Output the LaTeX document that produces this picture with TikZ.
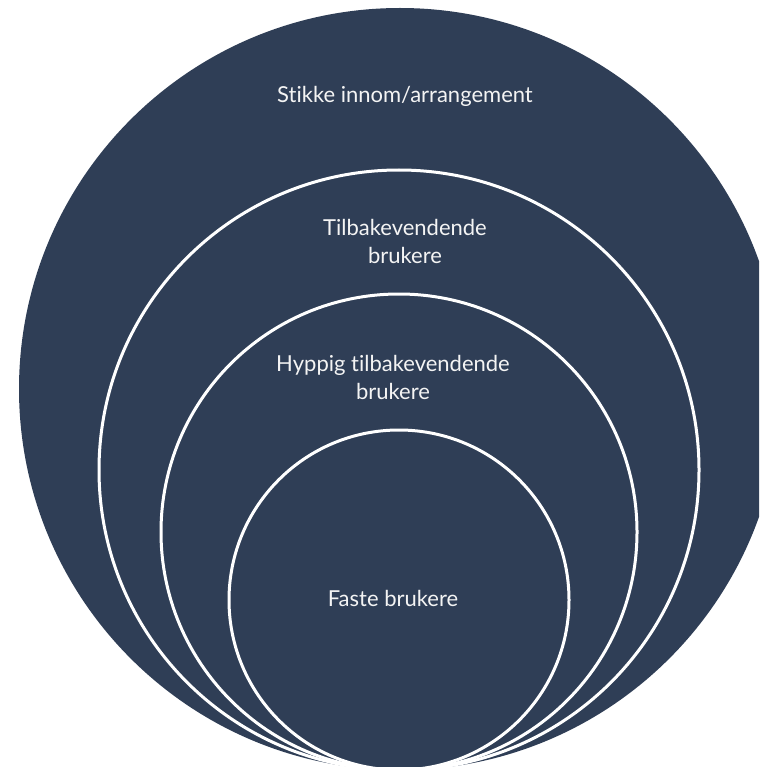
\documentclass[tikz,border=0pt]{standalone}
\usepackage{fontspec}
\setmainfont{Lato}[Ligatures=NoCommon]
\definecolor{navy}{HTML}{2F3E56}
\definecolor{txt}{HTML}{F4F4F4}
\begin{document}
\begin{tikzpicture}[x=1pt,y=-1pt,
  ring/.style={circle,fill=navy,draw=white,line width=3pt,inner sep=0pt},
  label/.style={text=txt,align=center,font=\fontsize{22}{28}\selectfont,inner sep=0pt}]
\useasboundingbox (0,0) rectangle (759,767);
\clip (0,0) rectangle (759,767);
\node[circle,fill=navy,inner sep=0pt,minimum size=762pt] (c1) at (400,389) {};
\node[ring,minimum size=600pt] (c2) at (399,470) {};
\node[ring,minimum size=476pt] (c3) at (399,532) {};
\node[ring,minimum size=340pt] (c4) at (399,600) {};
\node[label] (t1) at (405,96) {Stikke innom/arrangement};
\node[label] (t2) at (405,241) {Tilbakevendende\\brukere};
\node[label] (t3) at (393,377) {Hyppig tilbakevendende\\brukere};
\node[label] (t4) at (393,598) {Faste brukere};
\end{tikzpicture}
\end{document}
